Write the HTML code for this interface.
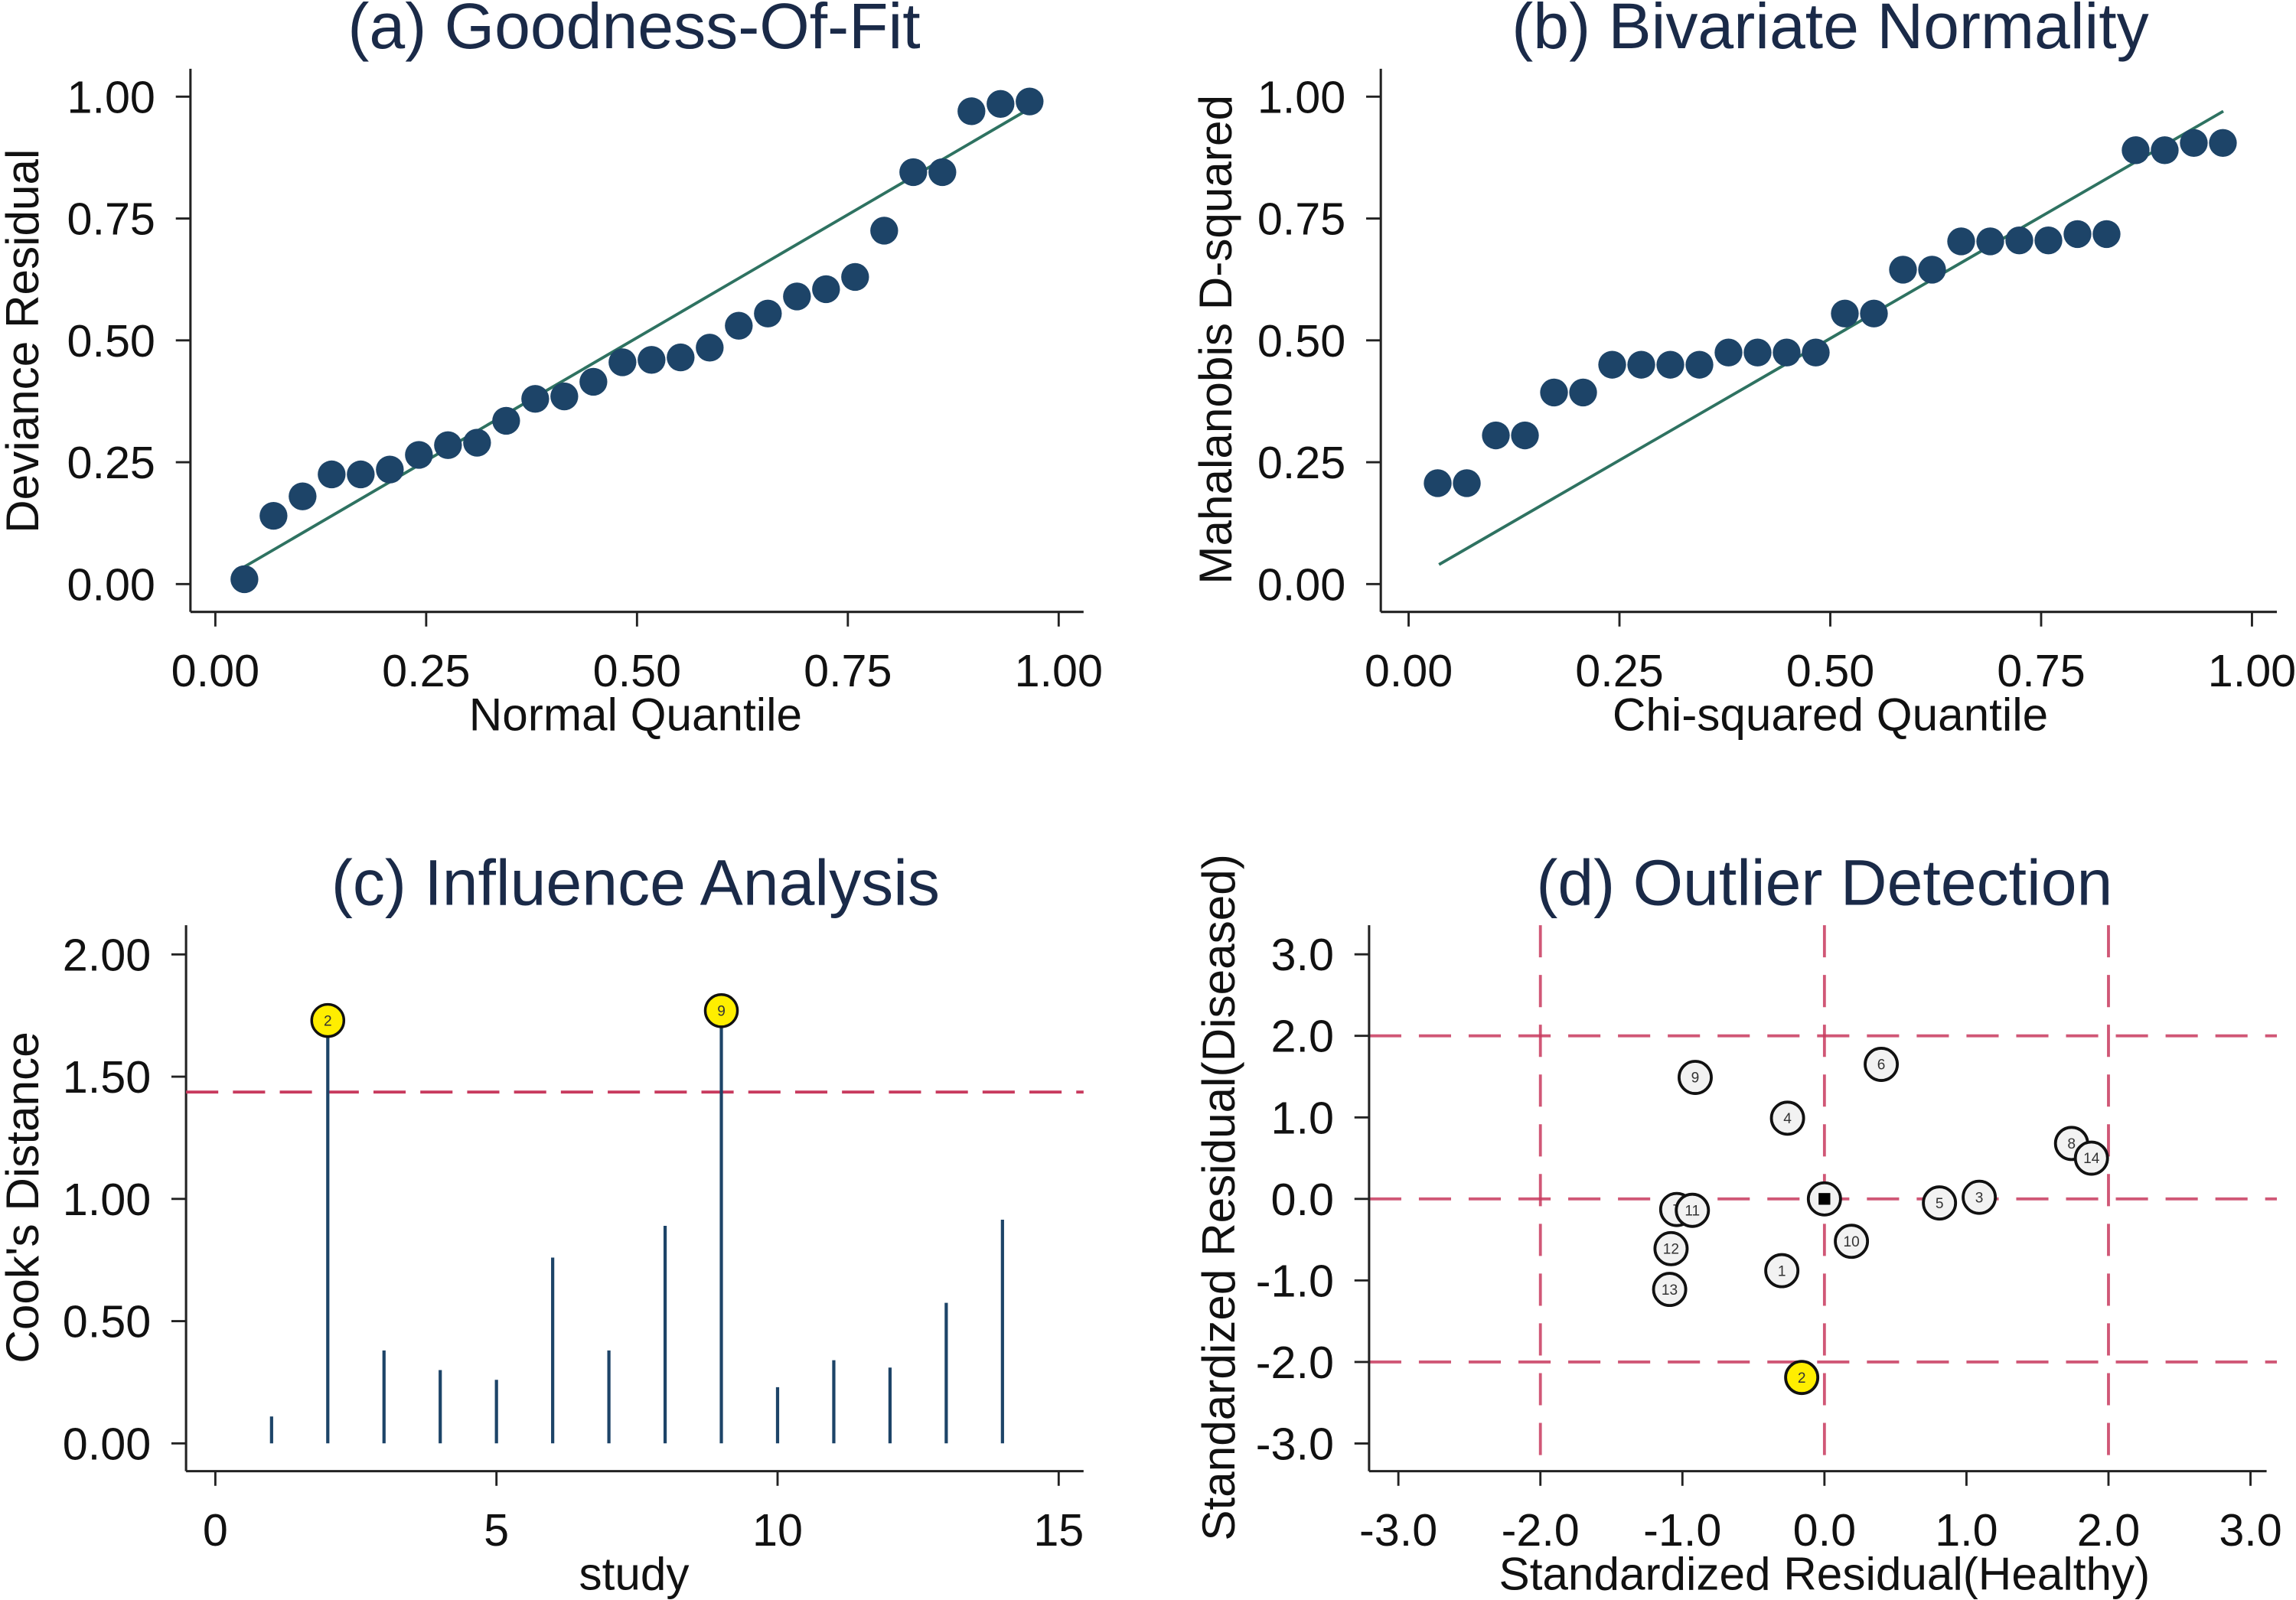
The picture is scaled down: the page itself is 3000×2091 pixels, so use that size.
<!DOCTYPE html>
<html><head><meta charset="utf-8"><style>
html,body{margin:0;padding:0;background:#fff}
svg{display:block}
text{font-family:"Liberation Sans",sans-serif}
</style></head><body>
<svg id="chart" width="3000" height="2091" viewBox="0 0 1568 1093" xmlns="http://www.w3.org/2000/svg"></svg>
<script>
// ---- data ----
const qqQuantiles = Array.from({length:28},(_, i)=>(i+1)/29);
const devianceResiduals = [0.01,0.14,0.18,0.225,0.225,0.235,0.265,0.285,0.29,0.335,0.38,0.385,0.415,0.455,0.46,0.465,0.485,0.53,0.555,0.59,0.605,0.63,0.725,0.845,0.845,0.97,0.985,0.99];
const fitLineA = [[0.034,0.035],[0.975,0.985]];
const mahalanobisD2 = [0.207,0.207,0.305,0.305,0.393,0.393,0.45,0.45,0.45,0.45,0.475,0.475,0.475,0.475,0.555,0.555,0.645,0.645,0.703,0.703,0.705,0.705,0.718,0.718,0.89,0.89,0.905,0.905];
const fitLineB = [[0.036,0.04],[0.966,0.97]];
const studies = [1,2,3,4,5,6,7,8,9,10,11,12,13,14];
const cooksD = [0.11,1.73,0.38,0.30,0.26,0.76,0.38,0.89,1.77,0.23,0.34,0.31,0.575,0.915];
const cooksThreshold = 1.437;
const cooksFlagged = [2,9];
const outlierLabels = ["9","6","4","8","14","7","11","5","3","10","12","1","13","2",""];
const residHealthy = [-0.91,0.40,-0.26,1.74,1.88,-1.04,-0.93,0.81,1.09,0.19,-1.08,-0.30,-1.09,-0.16,0];
const residDiseased = [1.49,1.65,0.99,0.68,0.50,-0.13,-0.14,-0.05,0.02,-0.52,-0.61,-0.88,-1.11,-2.19,0];
const outlierFlagged = ["2"];
const refLines = [-2,0,2];
const ticksA = ["0.00","0.25","0.50","0.75","1.00"];
const ticksC_x = ["0","5","10","15"];
const ticksC_y = ["0.00","0.50","1.00","1.50","2.00"];
const ticksD = ["-3.0","-2.0","-1.0","0.0","1.0","2.0","3.0"];

const NS="http://www.w3.org/2000/svg";
const svg=document.getElementById('chart');
function mk(tag,attrs,parent,txt){const e=document.createElementNS(NS,tag);for(const k in attrs)e.setAttribute(k,attrs[k]);if(txt!==undefined)e.textContent=txt;(parent||svg).appendChild(e);return e;}

const NAVY="#1d4468", GREEN="#2e7261", RED="#c83a5e", TXT="#111";

function panel(name){const g=mk('g',{});return g;}
function title(g,t,x,y){const e=mk('text',{x:x,y:y,'font-size':44,'text-anchor':'middle',fill:'#1a2a48'},g,t);}
function xtitle(g,t,x,y){const e=mk('text',{x:x,y:y,'font-size':31.5,'text-anchor':'middle',fill:TXT},g,t);}
function ytitle(g,t,x,y){const e=mk('text',{x:x,y:y,'font-size':31.5,'text-anchor':'middle',fill:TXT,transform:`rotate(-90 ${x} ${y})`},g,t);}
function axes(g,x0,x1,y0,y1){
  const a=mk('line',{x1:x0,y1:y0,x2:x0,y2:y1,stroke:'#222','stroke-width':1.6},g);
  const b=mk('line',{x1:x0,y1:y1,x2:x1,y2:y1,stroke:'#222','stroke-width':1.6},g);
}
function yticks(g,labels,vals,ys,ax){labels.forEach((l,i)=>{const y=ys(vals[i]);
  mk('line',{x1:ax-10,y1:y,x2:ax,y2:y,stroke:'#222','stroke-width':1.5},g);
  const t=mk('text',{x:ax-24,y:y+11,'font-size':31,'text-anchor':'end',fill:TXT},g,l);});}
function xticks(g,labels,vals,xs,ay,ly){labels.forEach((l,i)=>{const x=xs(vals[i]);
  mk('line',{x1:x,y1:ay,x2:x,y2:ay+10,stroke:'#222','stroke-width':1.5},g);
  const t=mk('text',{x:x,y:ly,'font-size':31,'text-anchor':'middle',fill:TXT},g,l);});}

// ---- Panel A ----
(function(){
 const g=panel('panel-goodness-of-fit');
 const xs=q=>147+576*q, ys=v=>399-333*v;
 title(g,'(a) Goodness-Of-Fit',433,33);
 axes(g,130,740,47,418);
 yticks(g,ticksA,[0,0.25,0.5,0.75,1],ys,130);
 xticks(g,ticksA,[0,0.25,0.5,0.75,1],xs,418,469);
 xtitle(g,'Normal Quantile',434,499); ytitle(g,'Deviance Residual',26,233);
 const l=mk('line',{x1:xs(fitLineA[0][0]),y1:ys(fitLineA[0][1]),x2:xs(fitLineA[1][0]),y2:ys(fitLineA[1][1]),stroke:GREEN,'stroke-width':2},g);
 
 devianceResiduals.forEach((v,i)=>{const c=mk('circle',{cx:xs(qqQuantiles[i]),cy:ys(v),r:9.5,fill:NAVY},g);
  });
})();
// ---- Panel B ----
(function(){
 const g=panel('panel-bivariate-normality');
 const xs=q=>962+576*q, ys=v=>399-333*v;
 title(g,'(b) Bivariate Normality',1250,33);
 axes(g,943,1555,47,418);
 yticks(g,ticksA,[0,0.25,0.5,0.75,1],ys,943);
 xticks(g,ticksA,[0,0.25,0.5,0.75,1],xs,418,469);
 xtitle(g,'Chi-squared Quantile',1250,499); ytitle(g,'Mahalanobis D-squared',841,232);
 const l=mk('line',{x1:xs(fitLineB[0][0]),y1:ys(fitLineB[0][1]),x2:xs(fitLineB[1][0]),y2:ys(fitLineB[1][1]),stroke:GREEN,'stroke-width':2},g);
 
 mahalanobisD2.forEach((v,i)=>{const c=mk('circle',{cx:xs(qqQuantiles[i]),cy:ys(v),r:9.5,fill:NAVY},g);
  });
})();
// ---- Panel C ----
(function(){
 const g=panel('panel-influence-analysis');
 const xs=s=>147+38.4*s, ys=v=>986-167*v;
 title(g,'(c) Influence Analysis',434,618);
 axes(g,127,740,632,1005);
 yticks(g,ticksC_y,[0,0.5,1,1.5,2],ys,127);
 xticks(g,ticksC_x,[0,5,10,15],xs,1005,1056);
 xtitle(g,'study',433,1086); ytitle(g,"Cook's Distance",26,818);
 const th=mk('line',{x1:127,y1:ys(cooksThreshold),x2:740,y2:ys(cooksThreshold),stroke:RED,'stroke-width':2,'stroke-dasharray':'22 10'},g);
 
 studies.forEach((s,i)=>{const x=xs(s);
  const st=mk('line',{x1:x,y1:ys(0),x2:x,y2:ys(cooksD[i]),stroke:NAVY,'stroke-width':2.2},g);
  
  if(cooksFlagged.includes(s)){
   const c=mk('circle',{cx:x,cy:ys(cooksD[i]),r:11,fill:'#ffee00',stroke:'#111','stroke-width':1.8},g);
   
   mk('text',{x:x,y:ys(cooksD[i])+3.5,'font-size':10,'text-anchor':'middle',fill:'#333'},g,String(s));
  }});
})();
// ---- Panel D ----
(function(){
 const g=panel('panel-outlier-detection');
 const xs=v=>1246+97*v, ys=v=>819-55.7*v;
 title(g,'(d) Outlier Detection',1246,618);
 refLines.forEach(v=>{
  const h=mk('line',{x1:935,y1:ys(v),x2:1555,y2:ys(v),stroke:RED,'stroke-width':2,'stroke-dasharray':'22 12','stroke-opacity':0.85},g);
  
  const vl=mk('line',{x1:xs(v),y1:632,x2:xs(v),y2:1005,stroke:RED,'stroke-width':2,'stroke-dasharray':'22 12','stroke-opacity':0.85},g);
  
 });
 axes(g,935,1548,632,1005);
 yticks(g,ticksD,[-3,-2,-1,0,1,2,3],ys,935);
 xticks(g,ticksD,[-3,-2,-1,0,1,2,3],xs,1005,1056);
 xtitle(g,'Standardized Residual(Healthy)',1246,1086); ytitle(g,'Standardized Residual(Diseased)',843,818);
 outlierLabels.forEach((lab,i)=>{const x=xs(residHealthy[i]),y=ys(residDiseased[i]);
  const flag=outlierFlagged.includes(lab);
  const c=mk('circle',{cx:x,cy:y,r:11,fill:flag?'#ffee00':'#f2f2f2',stroke:'#111','stroke-width':2},g);
  
  if(lab==='') mk('rect',{x:x-4,y:y-4,width:8,height:8,fill:'#000'},g);
  else mk('text',{x:x,y:y+3.5,'font-size':10,'text-anchor':'middle',fill:'#333'},g,lab);
 });
})();
</script>
</body></html>
